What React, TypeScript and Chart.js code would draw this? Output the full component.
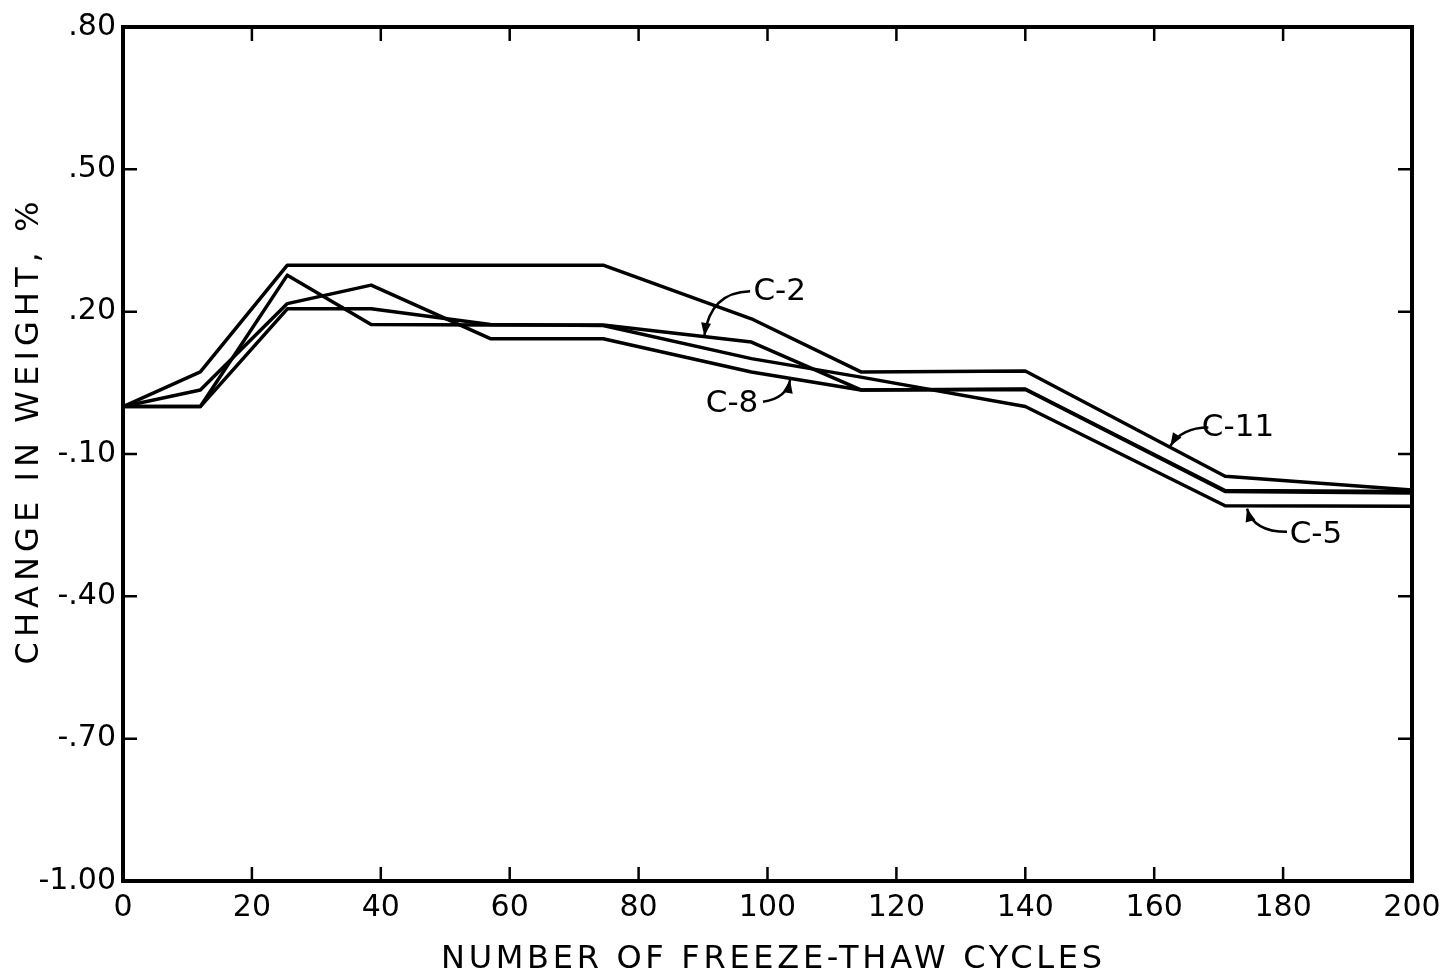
import React, { useEffect, useRef } from "react";
import { Chart, registerables } from "chart.js";

Chart.register(...registerables);

// ---- data ----
const cycles = [0, 12, 25.5, 38.5, 57, 74.5, 97.5, 114.5, 140, 171, 200];
const seriesC11 = [0, 0.073, 0.298, 0.298, 0.298, 0.298, 0.185, 0.073, 0.075, -0.147, -0.176];
const seriesC2 = [0, 0, 0.277, 0.173, 0.172, 0.172, 0.136, 0.035, 0.037, -0.177, -0.179];
const seriesC5 = [0, 0, 0.206, 0.206, 0.173, 0.171, 0.101, 0.062, 0.0, -0.209, -0.21];
const seriesC8 = [0, 0.035, 0.217, 0.256, 0.143, 0.143, 0.073, 0.035, 0.036, -0.179, -0.182];
const seriesNames = ["C-11", "C-2", "C-5", "C-8"];

const xTicks = [0, 20, 40, 60, 80, 100, 120, 140, 160, 180, 200];
const yTicks = [-1.0, -0.7, -0.4, -0.1, 0.2, 0.5, 0.8];
const xTitle = "NUMBER OF FREEZE-THAW CYCLES";
const yTitle = "CHANGE IN WEIGHT, %";

// callout labels, anchored in data units: [label, textX, textY, startX, startY, ctrlX, ctrlY, tipX, tipY]
const callouts: [string, number, number, number, number, number, number, number, number][] = [
  ["C-2", 101.9, 0.241, 97.3, 0.243, 91.1, 0.241, 90.2, 0.149],
  ["C-8", 94.5, 0.005, 99.3, 0.01, 103.0, 0.018, 103.5, 0.056],
  ["C-11", 173.0, -0.045, 168.4, -0.044, 164.3, -0.044, 162.5, -0.083],
  ["C-5", 185.1, -0.271, 180.6, -0.264, 175.4, -0.264, 174.4, -0.215],
];

const FONT = "'DejaVu Sans', sans-serif";

function fmtY(v: number): string {
  const s = v.toFixed(2);
  return s.replace(/^(-?)0\./, "$1.");
}

const framePlugin = {
  id: "frameTicks",
  afterDraw(chart: any) {
    const { ctx, chartArea, scales } = chart;
    const { left, right, top, bottom } = chartArea;
    const xs = scales.x;
    const ys = scales.y;
    ctx.save();
    ctx.strokeStyle = "#000";
    ctx.lineWidth = 4;
    ctx.strokeRect(left, top, right - left, bottom - top);
    ctx.lineWidth = 2.5;
    const tl = 14;
    ctx.beginPath();
    xTicks.forEach((t) => {
      const px = xs.getPixelForValue(t);
      ctx.moveTo(px, bottom);
      ctx.lineTo(px, bottom - tl);
      ctx.moveTo(px, top);
      ctx.lineTo(px, top + tl);
    });
    yTicks.forEach((t) => {
      const py = ys.getPixelForValue(t);
      ctx.moveTo(left, py);
      ctx.lineTo(left + tl, py);
      ctx.moveTo(right, py);
      ctx.lineTo(right - tl, py);
    });
    ctx.stroke();

    // axis titles with wide letter spacing
    ctx.fillStyle = "#000";
    ctx.font = `32px ${FONT}`;
    ctx.textAlign = "center";
    ctx.textBaseline = "middle";
    const drawSpaced = (text: string, target: number) => {
      (ctx as any).letterSpacing = "0px";
      const w = ctx.measureText(text).width;
      const sp = Math.max(0, (target - w) / (text.length - 1));
      (ctx as any).letterSpacing = `${sp}px`;
      ctx.fillText(text, sp / 2, 0);
      (ctx as any).letterSpacing = "0px";
    };
    ctx.save();
    ctx.translate((left + right) / 2 + 4, 960);
    drawSpaced(xTitle, 661);
    ctx.restore();
    ctx.save();
    ctx.translate(30, 433);
    ctx.rotate(-Math.PI / 2);
    drawSpaced(yTitle, 463);
    ctx.restore();

    // callouts
    ctx.font = `31px ${FONT}`;
    ctx.lineWidth = 2.5;
    callouts.forEach(([label, tx, ty, sx, sy, cx, cy, ex, ey]) => {
      const X = (v: number) => xs.getPixelForValue(v);
      const Y = (v: number) => ys.getPixelForValue(v);
      ctx.fillText(label, X(tx), Y(ty));
      const ax = X(ex), ay = Y(ey), qx = X(cx), qy = Y(cy);
      ctx.beginPath();
      ctx.moveTo(X(sx), Y(sy));
      ctx.quadraticCurveTo(qx, qy, ax, ay);
      ctx.stroke();
      const ang = Math.atan2(ay - qy, ax - qx);
      const hl = 13, hw = 5;
      ctx.beginPath();
      ctx.moveTo(ax, ay);
      ctx.lineTo(ax - hl * Math.cos(ang) + hw * Math.sin(ang), ay - hl * Math.sin(ang) - hw * Math.cos(ang));
      ctx.lineTo(ax - hl * Math.cos(ang) - hw * Math.sin(ang), ay - hl * Math.sin(ang) + hw * Math.cos(ang));
      ctx.closePath();
      ctx.fill();
    });
    ctx.restore();
  },
};

export default function App() {
  const ref = useRef<HTMLCanvasElement | null>(null);
  useEffect(() => {
    if (!ref.current) return;
    const all = [seriesC11, seriesC2, seriesC5, seriesC8];
    const chart = new Chart(ref.current, {
      type: "line",
      data: {
        datasets: all.map((s, i) => ({
          label: seriesNames[i],
          data: cycles.map((c, j) => ({ x: c, y: s[j] })),
          borderColor: "#000",
          borderWidth: 3.5,
          pointRadius: 0,
          tension: 0,
          fill: false,
          borderJoinStyle: "round" as const,
        })),
      },
      options: {
        animation: false,
        responsive: false,
        devicePixelRatio: 1,
        layout: { padding: { left: 0, top: 27, right: 31, bottom: 0 } },
        plugins: { legend: { display: false }, tooltip: { enabled: false } },
        scales: {
          x: {
            type: "linear",
            min: 0,
            max: 200,
            grid: { display: false, drawTicks: false },
            border: { display: false },
            afterBuildTicks: (scale: any) => {
              scale.ticks = xTicks.map((v) => ({ value: v }));
            },
            afterFit: (scale: any) => {
              scale.height = 98;
              scale.paddingLeft = 0;
              scale.paddingRight = 0;
            },
            ticks: {
              color: "#000",
              padding: 9,
              maxRotation: 0,
              autoSkip: false,
              font: { family: FONT, size: 30 },
              callback: (v: any) => String(v),
            },
          },
          y: {
            type: "linear",
            min: -1,
            max: 0.8,
            grid: { display: false, drawTicks: false },
            border: { display: false },
            afterBuildTicks: (scale: any) => {
              scale.ticks = yTicks.map((v) => ({ value: v }));
            },
            afterFit: (scale: any) => {
              scale.width = 123;
              scale.paddingTop = 0;
              scale.paddingBottom = 0;
            },
            ticks: {
              color: "#000",
              padding: 7,
              autoSkip: false,
              font: { family: FONT, size: 30 },
              callback: (v: any) => fmtY(Number(v)),
            },
          },
        },
      },
      plugins: [framePlugin],
    });
    return () => chart.destroy();
  }, []);
  return (
    <div style={{ position: "absolute", left: 0, top: 0, width: 1443, height: 979, background: "#fff" }}>
      <canvas ref={ref} width={1443} height={979} style={{ width: 1443, height: 979, display: "block" }} />
    </div>
  );
}
